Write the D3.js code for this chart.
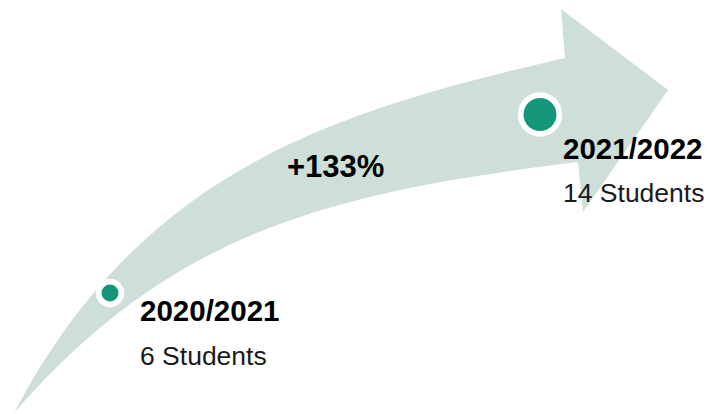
<!DOCTYPE html>
<html>
<head>
<meta charset="utf-8">
<script src="https://cdn.jsdelivr.net/npm/d3@7"></script>
<style>
  html, body { margin: 0; padding: 0; background: #ffffff; }
  svg { display: block; }
  text { font-family: "Century Gothic", "Liberation Sans", Arial, sans-serif; }
</style>
</head>
<body>
<div id="chart"></div>
<script>
// ---- data ----
const years = ["2020/2021", "2021/2022"];
const students = [6, 14];
const changeLabel = "+133%";
const unitLabel = "Students";

// ---- layout ----
const W = 712, H = 414;
const svg = d3.select("#chart").append("svg")
  .attr("width", W).attr("height", H);

const arrowColor = "#cddfd8";
const dotColor = "#15967b";

// scales
const x = d3.scalePoint().domain(years).range([110, 540]);
const y = d3.scaleLinear().domain([6, 14]).range([293, 114.5]);
const r = d3.scaleLinear().domain([6, 14]).range([8.5, 16.5]);
const labelX = d3.scalePoint().domain(years).range([140, 563]);

// decorative curved arrow
const p = d3.path();
p.moveTo(14, 413);
p.bezierCurveTo(140, 174, 322, 114, 565, 58);
p.lineTo(561, 9);
p.lineTo(668, 90);
p.lineTo(583, 212);
p.lineTo(578, 162);
p.bezierCurveTo(330, 192, 171, 232, 14, 413);
p.closePath();
svg.append("path").attr("d", p.toString()).attr("fill", arrowColor);

const data = years.map((yr, i) => ({ year: yr, value: students[i] }));

// dots: white ring + green core
const g = svg.append("g");
g.selectAll("circle.ring").data(data).join("circle")
  .attr("class", "ring")
  .attr("cx", d => x(d.year))
  .attr("cy", d => y(d.value))
  .attr("r", d => r(d.value) + 5.7)
  .attr("fill", "#ffffff");
g.selectAll("circle.core").data(data).join("circle")
  .attr("class", "core")
  .attr("cx", d => x(d.year))
  .attr("cy", d => y(d.value))
  .attr("r", d => r(d.value))
  .attr("fill", dotColor);

// labels
const yearBase = d => y(d.value) + 2 * (r(d.value) + 5.7);
g.selectAll("text.year").data(data).join("text")
  .attr("class", "year")
  .attr("x", d => labelX(d.year))
  .attr("y", d => yearBase(d))
  .attr("font-size", 29.5)
  .attr("font-weight", "bold")
  .attr("fill", "#000")
  .text(d => d.year);
g.selectAll("text.count").data(data).join("text")
  .attr("class", "count")
  .attr("x", d => labelX(d.year))
  .attr("y", d => yearBase(d) + 43.5)
  .attr("font-size", 26.5)
  .attr("fill", "#1a1a1a")
  .text(d => d.value + " " + unitLabel);

// change label
svg.append("text")
  .attr("x", 287)
  .attr("y", 177)
  .attr("font-size", 31)
  .attr("font-weight", "bold")
  .attr("fill", "#000")
  .text(changeLabel);
</script>
</body>
</html>
